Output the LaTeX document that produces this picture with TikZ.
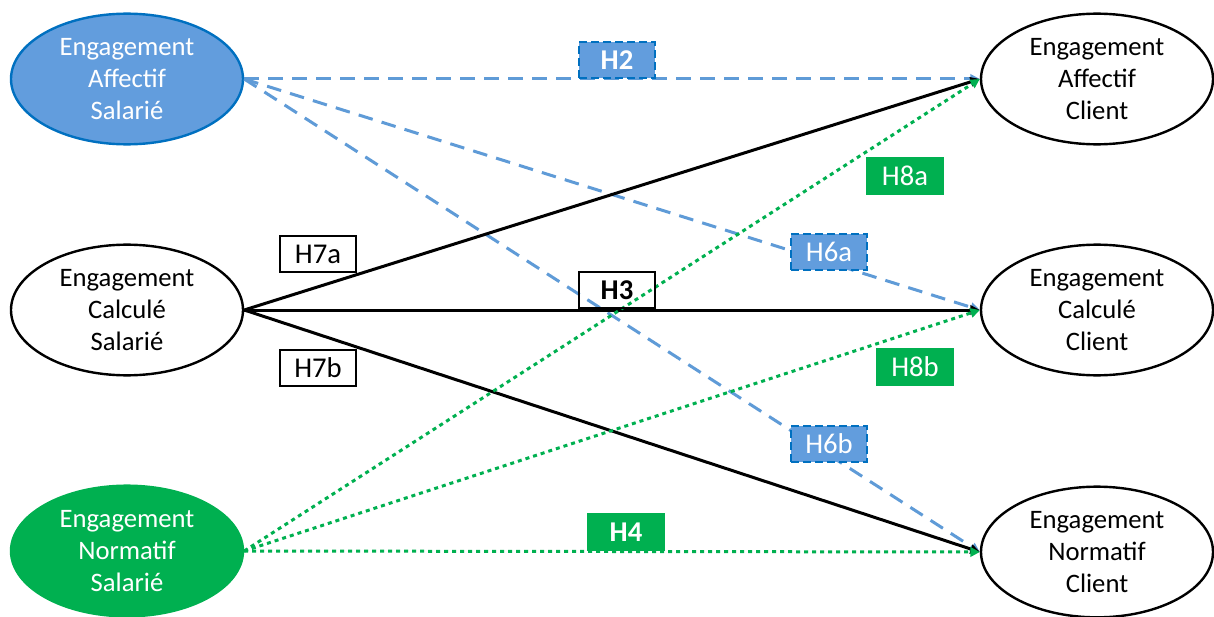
\documentclass[tikz,border=0pt]{standalone}
\usepackage{fontspec}
\setmainfont{Carlito}
\usetikzlibrary{shapes.geometric,arrows.meta}

\definecolor{affblue}{RGB}{98,157,221}
\definecolor{affedge}{RGB}{0,112,192}
\definecolor{normgreen}{RGB}{0,176,80}
\definecolor{dashblue}{RGB}{95,155,215}

\begin{document}
\begin{tikzpicture}[
  x=0.75pt, y=-0.75pt,
  font=\fontsize{20}{24}\selectfont,
  ell/.style={ellipse, draw, line width=1.8pt, minimum width=174pt, minimum height=98pt, align=center, inner sep=0pt},
  affs/.style={ell, fill=affblue, draw=affedge, text=white},
  calcs/.style={ell},
  norms/.style={ell, fill=normgreen, draw=normgreen, text=white},
  client/.style={ell},
  lab/.style={draw, line width=1.5pt, minimum width=57pt, minimum height=27pt, inner sep=0pt, font=\fontsize{21.5}{24}\selectfont},
  labblue/.style={lab, fill=affblue, draw=affedge, dash pattern=on 6pt off 3pt, line width=2.2pt, text=white},
  labgreen/.style={lab, fill=normgreen, draw=normgreen, text=white},
  arr/.style={-{Triangle[length=7pt,width=7pt]}, line width=2.25pt},
  arrblue/.style={arr, draw=dashblue, dash pattern=on 11pt off 7pt},
  arrgreen/.style={arr, draw=normgreen, dash pattern=on 3pt off 3pt},
  arrblack/.style={arr, draw=black}
]
\useasboundingbox (0,0) rectangle (1214,617);

% salaries
\node[affs] (aff) at (127,79) {Engagement\\Affectif\\Salarié};
\node[calcs] (calc) at (127,310) {Engagement\\Calculé\\Salarié};
\node[norms] (norm) at (127,551) {Engagement\\Normatif\\Salarié};

% clients
\node[client] (caff) at (1097,79) {Engagement\\Affectif\\Client};
\node[client] (ccalc) at (1097,310) {Engagement\\Calculé\\Client};
\node[client] (cnorm) at (1097,552) {Engagement\\Normatif\\Client};

\draw[arrblue] (aff.east) -- (caff.west);
\draw[arrblue] (aff.east) -- (ccalc.west);
\draw[arrblue] (aff.east) -- (cnorm.west);
\draw[arrblack] (calc.east) -- (caff.west);
\draw[arrblack] (calc.east) -- (ccalc.west);
\draw[arrblack] (calc.east) -- (cnorm.west);
\draw[arrgreen] (norm.east) -- (caff.west);
\draw[arrgreen] (norm.east) -- (ccalc.west);
\draw[arrgreen] (norm.east) -- (cnorm.west);

% hypotheses
\node[labblue] (h2) at (617,60) {\textbf{H2}};
\node[labgreen] (h8a) at (905,176) {H8a};
\node[lab] (h7a) at (318,254) {H7a};
\node[labblue] (h6a) at (829,252) {H6a};
\node[lab] (h3) at (617,290) {\textbf{H3}};
\node[labgreen] (h8b) at (915,367) {H8b};
\node[lab] (h7b) at (318,368) {H7b};
\node[labblue] (h6b) at (829,444) {H6b};
\node[labgreen] (h4) at (626,532) {\textbf{H4}};
\end{tikzpicture}
\end{document}
